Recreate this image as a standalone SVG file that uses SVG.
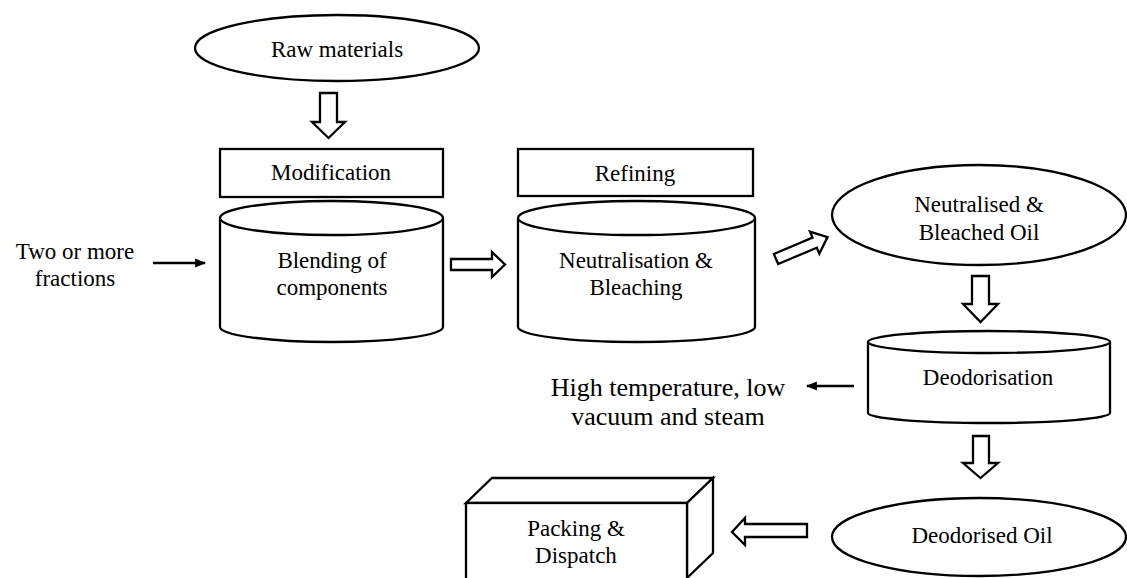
<svg xmlns="http://www.w3.org/2000/svg" width="1127" height="578" viewBox="0 0 1127 578">
  <style>
    .shape { fill: #ffffff; stroke: #000000; stroke-width: 2.3; stroke-linejoin: miter; }
    .line { fill: none; stroke: #000000; stroke-width: 2.5; }
    .hollow { fill: #ffffff; stroke: #000000; stroke-width: 2.3; stroke-linejoin: miter; }
    text { font-family: "Liberation Serif", "Times New Roman", serif; font-size: 23px; fill: #000000; text-anchor: middle; }
    .big { font-size: 26px; }
  </style>
  <defs>
    <marker id="arrowhead" viewBox="0 0 10 10" refX="9" refY="5" markerWidth="11" markerHeight="11" markerUnits="userSpaceOnUse" orient="auto">
      <path d="M0,1 L10,5 L0,9 Z" fill="#000000"/>
    </marker>
  </defs>

  <rect width="1127" height="578" fill="#ffffff"/>

  <!-- Source -->
  <g id="raw-materials">
    <ellipse class="shape" cx="337" cy="48" rx="142" ry="33"/>
    <text x="337" y="57">Raw materials</text>
  </g>

  <!-- Stage headers -->
  <g id="modification">
    <rect class="shape" x="220" y="149" width="223" height="48"/>
    <text x="331" y="180">Modification</text>
  </g>
  <g id="refining">
    <rect class="shape" x="518" y="149" width="235" height="47"/>
    <text x="635" y="181">Refining</text>
  </g>

  <!-- Process vessels (cylinders) -->
  <g id="blending">
    <path class="shape" d="M220,218 L220,327 A111.5,15 0 0 0 443,327 L443,218"/>
    <ellipse class="shape" cx="331.5" cy="218" rx="111.5" ry="17"/>
    <text x="332" y="268">Blending of</text>
    <text x="332" y="295">components</text>
  </g>
  <g id="neutralisation">
    <path class="shape" d="M518,218 L518,327 A118.5,15 0 0 0 755,327 L755,218"/>
    <ellipse class="shape" cx="636.5" cy="218" rx="118.5" ry="17"/>
    <text x="636" y="268">Neutralisation &amp;</text>
    <text x="636" y="295">Bleaching</text>
  </g>
  <g id="bleached-oil">
    <ellipse class="shape" cx="979" cy="215" rx="147" ry="50"/>
    <text x="979" y="212">Neutralised &amp;</text>
    <text x="979" y="240">Bleached Oil</text>
  </g>
  <g id="deodorisation">
    <path class="shape" d="M868,342 L868,413 A121,10 0 0 0 1110,413 L1110,342"/>
    <ellipse class="shape" cx="989" cy="342" rx="121" ry="11"/>
    <text x="988" y="385">Deodorisation</text>
  </g>
  <g id="deodorised-oil">
    <ellipse class="shape" cx="979" cy="537" rx="147" ry="39"/>
    <text x="982" y="543">Deodorised Oil</text>
  </g>

  <!-- Output box drawn in perspective -->
  <g id="packing">
    <path class="shape" d="M466,503 L492,478 L713,478 L687,503 Z"/>
    <path class="shape" d="M687,503 L713,478 L713,553 L687,578 Z"/>
    <rect class="shape" x="466" y="503" width="221" height="80"/>
    <text x="576" y="536">Packing &amp;</text>
    <text x="576" y="563">Dispatch</text>
  </g>

  <!-- Side inputs / conditions -->
  <g id="fractions">
    <text x="75" y="259">Two or more</text>
    <text x="75" y="286">fractions</text>
  </g>
  <g id="conditions">
    <text class="big" x="668" y="396">High temperature, low</text>
    <text class="big" x="668" y="425">vacuum and steam</text>
  </g>

  <!-- Connectors -->
  <g id="connectors">
    <path class="hollow" d="M320,93 L337,93 L337,122 L345,122 L328.5,138 L312,122 L320,122 Z"/>
    <line class="line" x1="153" y1="263" x2="205" y2="263" marker-end="url(#arrowhead)"/>
    <path class="hollow" d="M451,259 L492,259 L492,252 L505,264.5 L492,277 L492,270 L451,270 Z"/>
    <path class="hollow" transform="translate(776,259) rotate(-23)" d="M0,-5.5 L42,-5.5 L42,-12 L56,0 L42,12 L42,5.5 L0,5.5 Z"/>
    <path class="hollow" d="M972,276 L989,276 L989,304 L998,304 L980.5,322 L963,304 L972,304 Z"/>
    <line class="line" x1="854" y1="386" x2="807" y2="386" marker-end="url(#arrowhead)"/>
    <path class="hollow" d="M973,436 L989,436 L989,463 L998,463 L980.5,478 L963,463 L973,463 Z"/>
    <path class="hollow" d="M807,524 L745,524 L745,518 L732,532 L745,545 L745,537 L807,537 Z"/>
  </g>
</svg>
